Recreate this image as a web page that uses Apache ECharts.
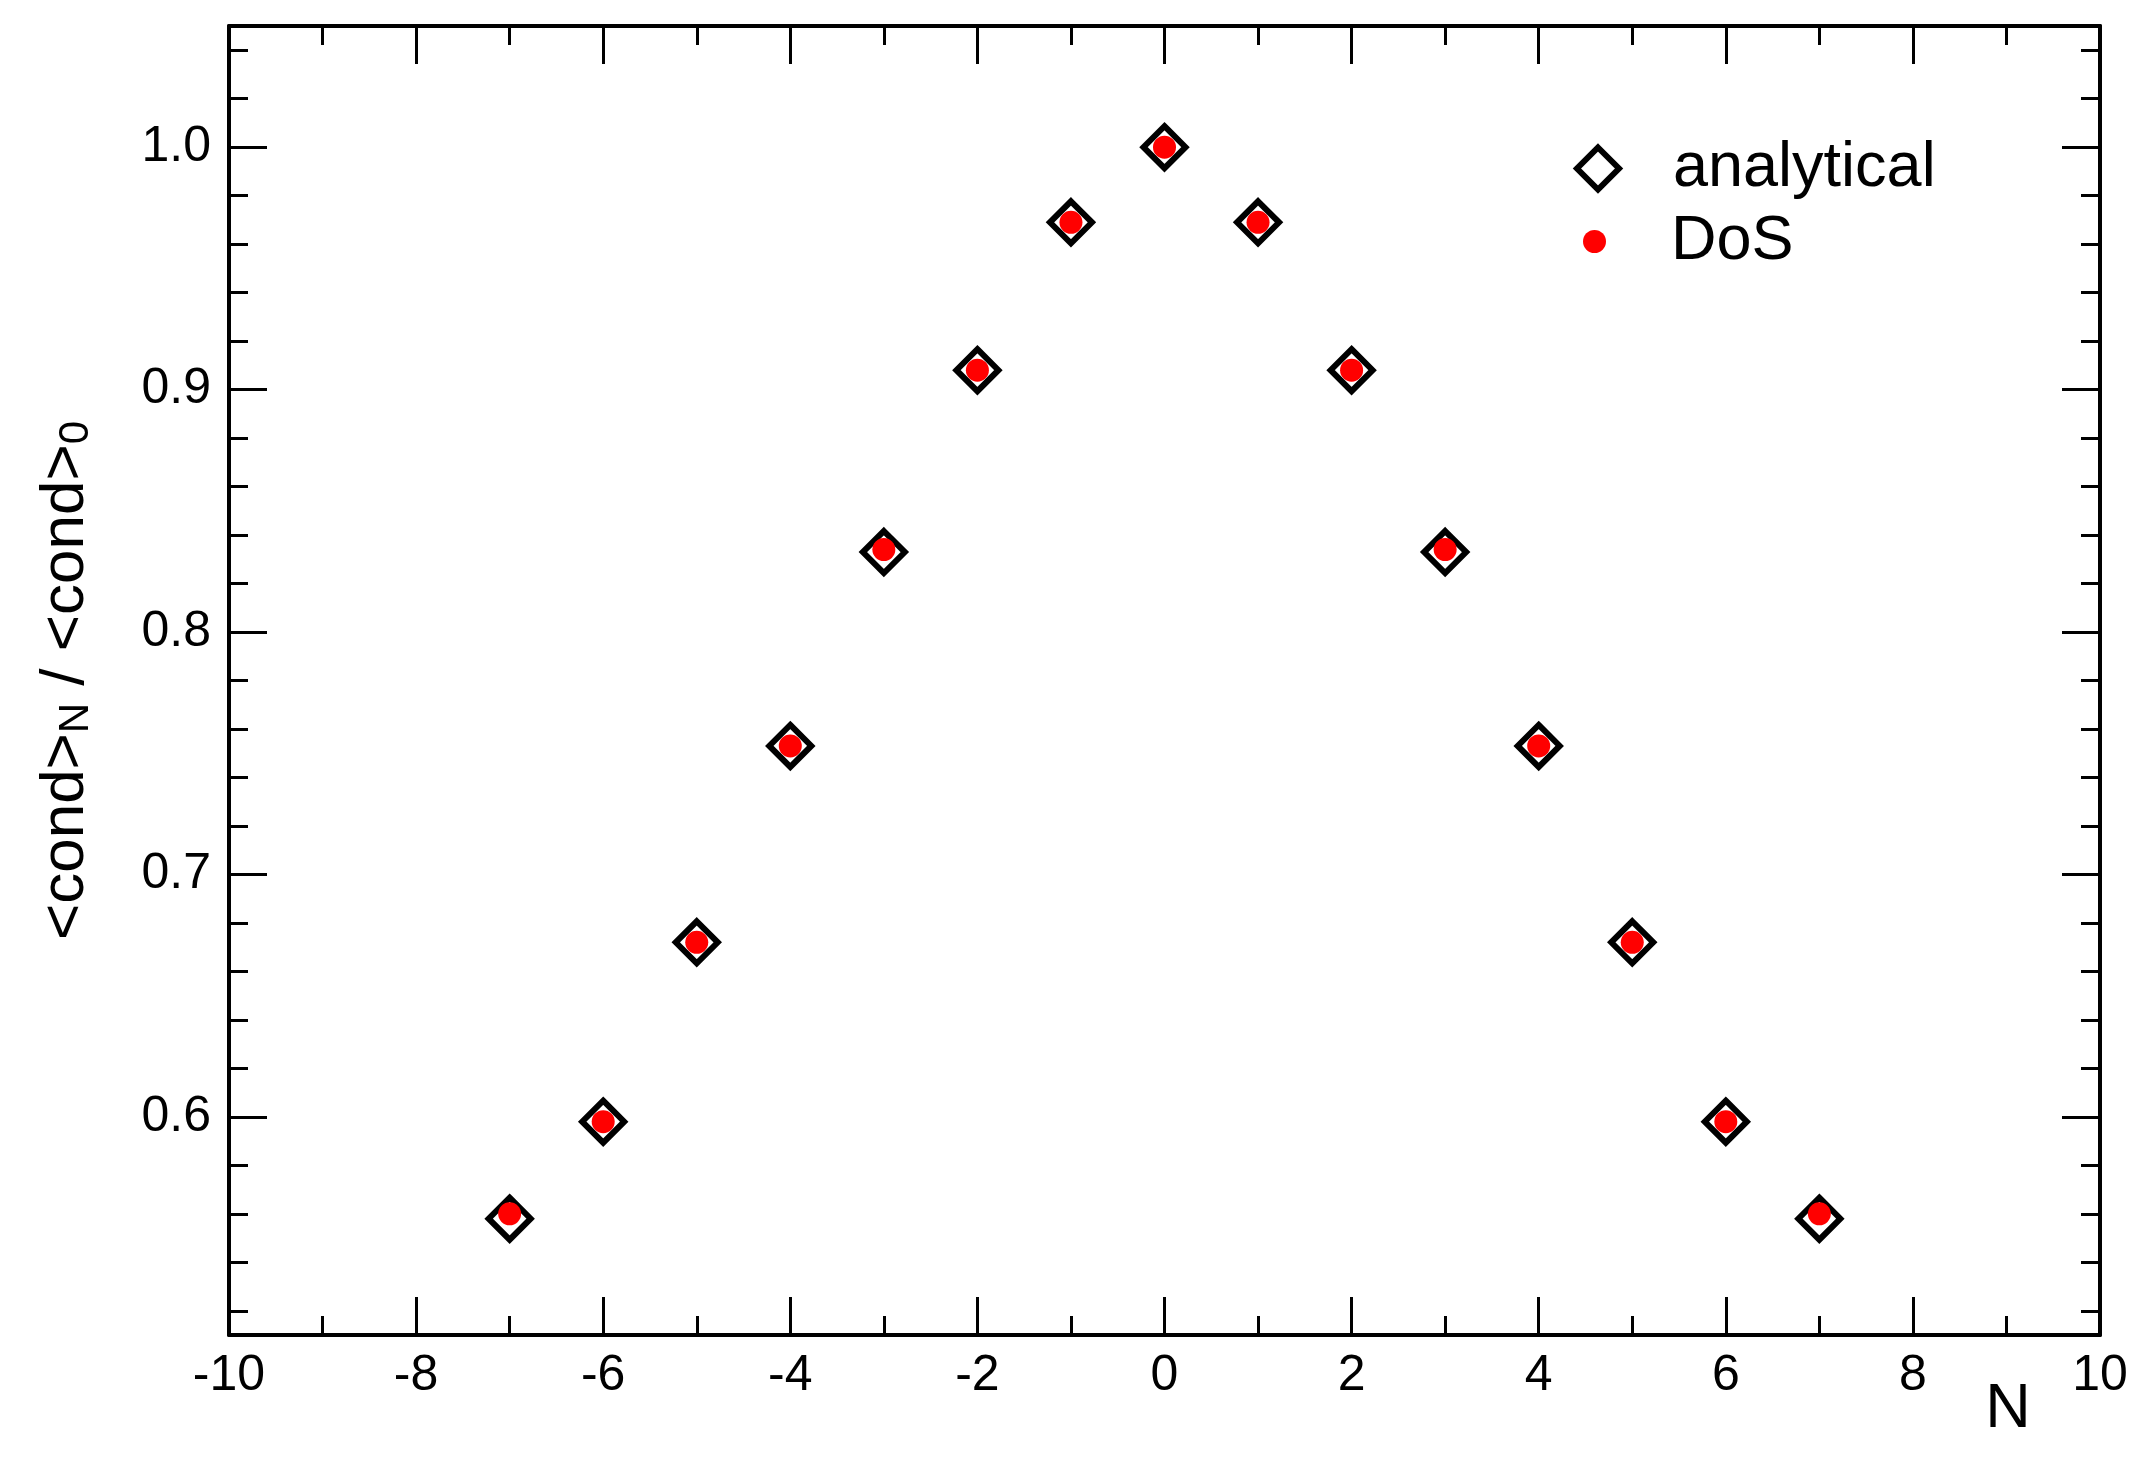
<!DOCTYPE html>
<html>
<head>
<meta charset="utf-8">
<script src="https://cdn.jsdelivr.net/npm/echarts@6/dist/echarts.min.js"></script>
<style>
html,body{margin:0;padding:0;background:#fff;}
#chart{width:2154px;height:1459px;}
</style>
</head>
<body>
<div id="chart"></div>
<script>
// ---- data ----
const nValues = [-7, -6, -5, -4, -3, -2, -1, 0, 1, 2, 3, 4, 5, 6, 7];
const analytical = [0.558, 0.598, 0.672, 0.753, 0.833, 0.908, 0.969, 1.000, 0.969, 0.908, 0.833, 0.753, 0.672, 0.598, 0.558];
const dos = [0.560, 0.598, 0.672, 0.753, 0.834, 0.908, 0.969, 1.000, 0.969, 0.908, 0.834, 0.753, 0.672, 0.598, 0.560];
const seriesNames = ['analytical', 'DoS'];
const yMajorTicks = [0.6, 0.7, 0.8, 0.9, 1.0];
const yMinorTicks = [0.52, 0.54, 0.56, 0.58, 0.62, 0.64, 0.66, 0.68, 0.72, 0.74, 0.76, 0.78,
                     0.82, 0.84, 0.86, 0.88, 0.92, 0.94, 0.96, 0.98, 1.02, 1.04];
const yTickLabels = ['0.6', '0.7', '0.8', '0.9', '1.0'];
const xTitle = 'N';
const yTitle = '{m|<cond>}{s|N}{m| / <cond>}{s|0}';

// ---- chart ----
const FONT = '"Liberation Sans", Arial, Helvetica, sans-serif';
const chart = echarts.init(document.getElementById('chart'), null, {renderer: 'canvas'});

function xAx(pos, showLabel) {
  return {
    type: 'value', position: pos, min: -10, max: 10, interval: 2,
    axisLine: {show: true, onZero: false, lineStyle: {color: '#000', width: 4}},
    axisTick: {show: true, inside: true, length: 38, lineStyle: {color: '#000', width: 3}},
    minorTick: {show: true, splitNumber: 2, length: 19, lineStyle: {color: '#000', width: 3}},
    axisLabel: {show: showLabel, fontSize: 50, fontFamily: FONT, color: '#000', margin: 16},
    splitLine: {show: false}, minorSplitLine: {show: false}
  };
}
function yAx(pos, major, showLine, showLabel, extra) {
  const ax = {
    type: 'value', position: pos, min: 0.51, max: 1.05,
    axisLine: {show: showLine, onZero: false, lineStyle: {color: '#000', width: 4}},
    axisTick: {show: true, inside: true, length: major ? 38 : 19,
               customValues: major ? yMajorTicks : yMinorTicks,
               lineStyle: {color: '#000', width: 3}},
    axisLabel: {show: showLabel, fontSize: 50, fontFamily: FONT, color: '#000', margin: 18,
                customValues: yMajorTicks,
                formatter: function (v) {
                  const i = yMajorTicks.findIndex(t => Math.abs(t - v) < 1e-9);
                  return i >= 0 ? yTickLabels[i] : '';
                }},
    splitLine: {show: false}
  };
  return Object.assign(ax, extra || {});
}

const option = {
  backgroundColor: '#fff',
  animation: false,
  grid: {left: 229, right: 54, top: 26, bottom: 124, outerBoundsMode: 'none', containLabel: false},
  xAxis: [xAx('bottom', true), xAx('top', false)],
  yAxis: [
    yAx('left', true, true, true, {
      name: yTitle, nameLocation: 'middle', nameRotate: 90, nameGap: 132, nameMoveOverlap: false,
      nameTextStyle: {
        fontFamily: FONT, color: '#000',
        rich: {
          m: {fontSize: 62, lineHeight: 62, verticalAlign: 'top', fontFamily: FONT, color: '#000'},
          s: {fontSize: 42, lineHeight: 42, verticalAlign: 'bottom', padding: [44, 0, 0, 0], fontFamily: FONT, color: '#000'}
        }
      }
    }),
    yAx('left', false, false, false),
    yAx('right', true, true, false),
    yAx('right', false, false, false)
  ],
  legend: [
    {
      data: [{name: seriesNames[0], icon: 'diamond', itemStyle: {color: '#fff', borderColor: '#000', borderWidth: 6}}],
      left: 1574, top: 137, padding: 0, itemWidth: 42, itemHeight: 42, selectedMode: false,
      formatter: n => '{t|' + n + '}',
      textStyle: {fontSize: 63, fontFamily: FONT, color: '#000',
                  rich: {t: {fontSize: 63, fontFamily: FONT, color: '#000', padding: [0, 0, 0, 49]}}}
    },
    {
      data: [{name: seriesNames[1], icon: 'circle', itemStyle: {color: '#ff0000', borderWidth: 0}}],
      left: 1583, top: 210, padding: 0, itemWidth: 23, itemHeight: 23, selectedMode: false,
      formatter: n => '{t|' + n + '}',
      textStyle: {fontSize: 63, fontFamily: FONT, color: '#000',
                  rich: {t: {fontSize: 63, fontFamily: FONT, color: '#000', padding: [0, 0, 0, 60]}}}
    }
  ],
  graphic: [
    {type: 'text', x: 2008, y: 1410, silent: true,
     style: {text: xTitle, fontSize: 63, fontFamily: FONT, fill: '#000', align: 'center', verticalAlign: 'middle'}}
  ],
  series: [
    {
      name: seriesNames[0], type: 'scatter', xAxisIndex: 0, yAxisIndex: 0,
      symbol: 'diamond', symbolSize: 42, z: 2,
      itemStyle: {color: '#fff', borderColor: '#000', borderWidth: 6, opacity: 1},
      emphasis: {disabled: true},
      data: nValues.map((n, i) => [n, analytical[i]])
    },
    {
      name: seriesNames[1], type: 'scatter', xAxisIndex: 0, yAxisIndex: 0,
      symbol: 'circle', symbolSize: 23, z: 3,
      itemStyle: {color: '#ff0000', borderWidth: 0, opacity: 1},
      emphasis: {disabled: true},
      data: nValues.map((n, i) => [n, dos[i]])
    }
  ]
};
chart.setOption(option);
</script>
</body>
</html>
